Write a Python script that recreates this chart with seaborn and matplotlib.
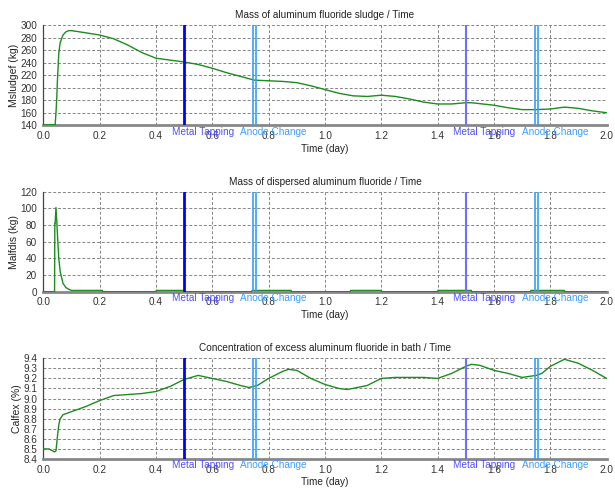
import numpy as np
import pandas as pd
import matplotlib
matplotlib.use("Agg")
import matplotlib.pyplot as plt
import seaborn as sns

# ── Data ──────────────────────────────────────────────────
t_sludge = [0.0, 0.04, 0.042, 0.045, 0.048, 0.05, 0.055, 0.06, 0.07, 0.08, 0.09, 0.1,
            0.13, 0.2, 0.25, 0.3, 0.35, 0.4, 0.45, 0.5, 0.55, 0.6, 0.65, 0.7, 0.75,
            0.8, 0.85, 0.9, 0.95, 1.0, 1.05, 1.1, 1.15, 1.2, 1.25, 1.3, 1.35, 1.4,
            1.45, 1.5, 1.52, 1.6, 1.65, 1.7, 1.75, 1.8, 1.85, 1.9, 1.95, 2.0]
msludgef = [141, 141, 140, 160, 185, 210, 255, 272, 284, 289, 291, 291,
            289, 284, 278, 268, 256, 247, 244, 241, 237, 231, 224, 218, 212,
            211, 210, 208, 203, 197, 191, 187, 186, 188, 186, 182, 177, 174,
            174, 176, 176, 172, 168, 165, 165, 166, 169, 167, 163, 160]

t_disp = [0.0, 0.04, 0.041, 0.042, 0.045, 0.048, 0.05, 0.055, 0.06, 0.07, 0.08, 0.09,
          0.1, 0.21, 0.211, 0.4, 0.401, 0.5, 0.501, 0.74, 0.741, 0.88, 0.881,
          1.09, 1.091, 1.2, 1.201, 1.4, 1.401, 1.52, 1.521, 1.73, 1.731, 1.85,
          1.851, 2.0]
malfdis = [0, 0, 82, 82, 101, 84, 70, 40, 24, 10, 5, 3,
           1.5, 1.5, 0, 0, 1.5, 1.5, 0, 0, 1.5, 1.5, 0,
           0, 1.5, 1.5, 0, 0, 1.5, 1.5, 0, 0, 1.5, 1.5,
           0, 0]

t_conc = [0.0, 0.02, 0.04, 0.045, 0.05, 0.055, 0.06, 0.07, 0.1, 0.15, 0.2, 0.25,
          0.3, 0.35, 0.4, 0.45, 0.5, 0.55, 0.6, 0.65, 0.7, 0.73, 0.76, 0.8,
          0.85, 0.87, 0.9, 0.95, 1.0, 1.05, 1.08, 1.15, 1.2, 1.25, 1.3, 1.35,
          1.4, 1.45, 1.5, 1.52, 1.55, 1.6, 1.65, 1.7, 1.75, 1.77, 1.8, 1.85,
          1.9, 1.95, 2.0]
calfex = [8.50, 8.50, 8.47, 8.48, 8.62, 8.74, 8.80, 8.84, 8.87, 8.92, 8.98, 9.03,
          9.04, 9.05, 9.07, 9.12, 9.19, 9.23, 9.20, 9.17, 9.13, 9.11, 9.13, 9.20,
          9.27, 9.29, 9.28, 9.20, 9.14, 9.10, 9.09, 9.13, 9.20, 9.21, 9.21, 9.21,
          9.20, 9.25, 9.32, 9.34, 9.33, 9.28, 9.25, 9.21, 9.23, 9.25, 9.32, 9.39,
          9.35, 9.28, 9.20]

# events
tapping_times = [0.5, 1.5]
tapping_colors = ["#0000ff", "#7070ff"]
tapping_widths = [2.0, 1.5]
anode_times = [0.744, 0.755, 1.744, 1.755]
anode_color = "#33a0ff"

panels = [
    ("Mass of aluminum fluoride sludge / Time", "Msludgef (kg)", t_sludge, msludgef,
     (140, 300), np.arange(140, 301, 20), "{:.0f}"),
    ("Mass of dispersed aluminum fluoride / Time", "Malfdis (kg)", t_disp, malfdis,
     (0, 120), np.arange(0, 121, 20), "{:.0f}"),
    ("Concentration of excess aluminum fluoride in bath / Time", "Calfex (%)", t_conc, calfex,
     (8.4, 9.4), np.arange(8.4, 9.41, 0.1), "{:.1f}"),
]

# ── Plot ──────────────────────────────────────────────────
sns.set_style("white")
plt.rcParams["font.family"] = ["Liberation Sans", "DejaVu Sans"]
FS = 7.2

fig = plt.figure(figsize=(6.15, 4.9), dpi=100)
positions = [
    [0.0704, 0.7443, 0.916, 0.2047],
    [0.0704, 0.4047, 0.916, 0.2041],
    [0.0704, 0.0633, 0.916, 0.2055],
]

for pos, (title, ylabel, t, v, ylim, yticks, fmt) in zip(positions, panels):
    ax = fig.add_axes(pos)
    df = pd.DataFrame({"Time": t, "Value": v})
    sns.lineplot(data=df, x="Time", y="Value", ax=ax, color="#1e8c1e", lw=1.0,
                 estimator=None, sort=False, zorder=3)

    for x, c, w in zip(tapping_times, tapping_colors, tapping_widths):
        ax.axvline(x, color=c, lw=w, zorder=4)
    for x in anode_times:
        ax.axvline(x, color=anode_color, lw=1.2, zorder=4)

    for x in tapping_times:
        ax.annotate("Metal Tapping", xy=(x, 0), xycoords=("data", "axes fraction"),
                    xytext=(-9, -1), textcoords="offset points", ha="left", va="top",
                    color="#4f4fff", fontsize=FS, zorder=5)
    for x in anode_times[::2]:
        ax.annotate("Anode Change", xy=(x, 0), xycoords=("data", "axes fraction"),
                    xytext=(-9, -1), textcoords="offset points", ha="left", va="top",
                    color="#3d9eff", fontsize=FS, zorder=5)

    ax.set_xlim(0, 2)
    ax.set_ylim(*ylim)
    ax.set_xticks(np.arange(0, 2.01, 0.2))
    ax.set_xticklabels([f"{x:.1f}" for x in np.arange(0, 2.01, 0.2)])
    ax.set_yticks(yticks)
    ax.set_yticklabels([fmt.format(y) for y in yticks])
    ax.tick_params(axis="both", labelsize=FS, colors="#333333", length=3,
                   width=0.8, pad=1.5)
    ax.tick_params(axis="x", length=0, pad=4)
    ax.grid(True, ls=(0, (3, 2)), color="#858585", lw=0.7)
    ax.set_title(title, fontsize=FS, color="#222222", pad=5)
    ax.set_xlabel("Time (day)", fontsize=FS, color="#222222", labelpad=2)
    ax.set_ylabel(ylabel, fontsize=FS + 0.3, color="#222222", labelpad=1)
    for s in ["top", "right"]:
        ax.spines[s].set_visible(False)
    ax.spines["left"].set_color("#444444")
    ax.spines["left"].set_linewidth(0.9)
    ax.spines["bottom"].set_color("#888888")
    ax.spines["bottom"].set_linewidth(2.0)

plt.savefig("out.png", dpi=100)
